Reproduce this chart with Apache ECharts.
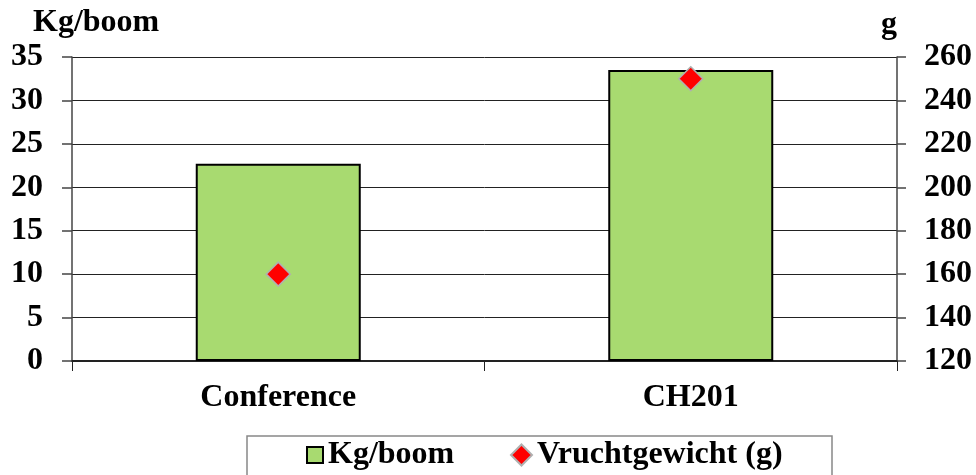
<!DOCTYPE html>
<html>
<head>
<meta charset="utf-8">
<script src="https://cdn.jsdelivr.net/npm/echarts@6/dist/echarts.min.js"></script>
<style>
html,body{margin:0;padding:0;background:#fff;}
#chart{width:976px;height:475px;}
</style>
</head>
<body>
<div id="chart"></div>
<script>
const categories = ['Conference', 'CH201'];
const kgPerTree = [22.7, 33.5];
const fruitWeight = [160, 250];
const leftTicks = [0, 35, 5];
const rightTicks = [120, 260, 20];

const FONT = '"Liberation Serif", "Times New Roman", serif';
const FS = 32;
const chart = echarts.init(document.getElementById('chart'), null, {renderer: 'canvas'});
const legendText = {fontFamily: FONT, fontWeight: 'bold', fontSize: FS, color: '#000'};

chart.setOption({
  animation: false,
  backgroundColor: '#fff',
  textStyle: {fontFamily: FONT},
  grid: {left: 72, right: 79, top: 57, bottom: 114, containLabel: false},
  graphic: [
    {type: 'text', left: 33, top: 7, style: {text: 'Kg/boom', font: 'bold ' + FS + 'px ' + FONT, fill: '#000'}},
    {type: 'text', left: 881, top: 9, style: {text: 'g', font: 'bold ' + FS + 'px ' + FONT, fill: '#000'}},
    {type: 'rect', shape: {x: 247, y: 436, width: 585, height: 60}, style: {fill: 'none', stroke: '#888', lineWidth: 1.5}, z: 0}
  ],
  legend: [
    {
      left: 306, top: 439, padding: 0,
      itemWidth: 16, itemHeight: 16,
      textStyle: legendText,
      data: [{name: 'Kg/boom', icon: 'rect'}]
    },
    {
      left: 510, top: 439, padding: 0,
      itemWidth: 21, itemHeight: 21,
      textStyle: legendText,
      data: [{name: 'Vruchtgewicht (g)', icon: 'diamond'}]
    }
  ],
  xAxis: {
    type: 'category',
    data: categories,
    boundaryGap: true,
    axisLine: {show: true, lineStyle: {color: '#222', width: 2}},
    axisTick: {show: true, alignWithLabel: false, length: 10, lineStyle: {color: '#222', width: 1}},
    axisLabel: {margin: 21, fontFamily: FONT, fontWeight: 'bold', fontSize: FS, color: '#000'},
    splitLine: {show: false}
  },
  yAxis: [
    {
      type: 'value',
      min: leftTicks[0], max: leftTicks[1], interval: leftTicks[2],
      position: 'left',
      axisLine: {show: true, lineStyle: {color: '#444', width: 1.5}},
      axisTick: {show: true, length: 10, lineStyle: {color: '#444', width: 1.5}},
      axisLabel: {margin: 29, fontFamily: FONT, fontWeight: 'bold', fontSize: FS, color: '#000'},
      splitLine: {show: true, lineStyle: {color: '#222', width: 1}}
    },
    {
      type: 'value',
      min: rightTicks[0], max: rightTicks[1], interval: rightTicks[2],
      position: 'right',
      axisLine: {show: true, lineStyle: {color: '#444', width: 1.5}},
      axisTick: {show: true, length: 9, lineStyle: {color: '#444', width: 1.5}},
      axisLabel: {margin: 27, fontFamily: FONT, fontWeight: 'bold', fontSize: FS, color: '#000'},
      splitLine: {show: false}
    }
  ],
  series: [
    {
      name: 'Kg/boom',
      type: 'bar',
      yAxisIndex: 0,
      data: kgPerTree,
      barWidth: '40%',
      itemStyle: {color: '#A8DA70', borderColor: '#000', borderWidth: 2}
    },
    {
      name: 'Vruchtgewicht (g)',
      type: 'scatter',
      yAxisIndex: 1,
      data: fruitWeight,
      symbol: 'diamond',
      symbolSize: 24,
      itemStyle: {color: '#FF0000', borderColor: '#B0B0B0', borderWidth: 1.5, opacity: 1},
      z: 5
    }
  ]
});
</script>
</body>
</html>
